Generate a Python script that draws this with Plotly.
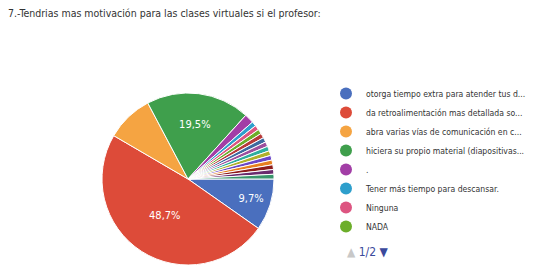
import plotly.graph_objects as go

title = "7.-Tendrias mas motivación para las clases virtuales si el profesor:"
labels = [
    "otorga tiempo extra para atender tus d...",
    "da retroalimentación mas detallada so...",
    "abra varias vías de comunicación en c...",
    "hiciera su propio material (diapositivas...",
    ".",
    "Tener más tiempo para descansar.",
    "Ninguna",
    "NADA",
    "r9", "r10", "r11", "r12", "r13", "r14", "r15", "r16", "r17", "r18",
]
values = [11, 55, 10, 22, 2, 1, 1, 1, 1, 1, 1, 1, 1, 1, 1, 1, 1, 1]
colors = ["#4a6fbe", "#dd4b39", "#f5a442", "#3f9f4c", "#a23ea6", "#2e9fcc",
          "#dd5581", "#6cae2a", "#b73a3a", "#3d6aa0", "#9c4f9e", "#2fae9f",
          "#b0b02a", "#6a46c8", "#e77f1f", "#8e1c1c", "#6a2a6e", "#3a956c"]
shown_labels = {0, 1, 3}
legend_count = 8

texts = ["%{percent:.1%}" if i in shown_labels else "" for i in range(len(values))]

FONT = "DejaVu Sans Condensed, Roboto"
# page body has an 8px margin, so the figure is sized to fit the window
W, H = 526, 266
OX, OY = 8, 8


def px(x):
    return (x - OX) / W


def py(y):
    return 1 - (y - OY) / H


fig = go.Figure()
cx, cy, r = 188, 179, 86
fig.add_trace(go.Pie(
    labels=labels, values=values, sort=False, direction="clockwise", rotation=90,
    marker=dict(colors=colors, line=dict(color="white", width=1)),
    texttemplate=texts, textposition="inside", insidetextorientation="horizontal",
    textfont=dict(color="white", size=11, family=FONT),
    showlegend=False, hoverinfo="label+percent",
    domain=dict(x=[px(cx - r), px(cx + r)], y=[py(cy + r), py(cy - r)]),
))

for i in range(legend_count):
    fig.add_trace(go.Scatter(
        x=[None], y=[None], mode="markers", name=labels[i],
        marker=dict(color=colors[i], size=10, symbol="circle"),
        showlegend=True,
    ))

fig.update_layout(
    width=W, height=H, margin=dict(l=0, r=0, t=0, b=0, autoexpand=False),
    paper_bgcolor="white", plot_bgcolor="white",
    separators=",.",
    xaxis=dict(visible=False), yaxis=dict(visible=False),
    title=dict(text=title, x=px(8), xanchor="left", y=py(13), yanchor="middle",
               font=dict(size=10.5, color="#333333", family=FONT)),
    legend=dict(x=px(326), xanchor="left", y=py(79), yanchor="top",
                font=dict(size=8.6, color="#333333", family=FONT),
                itemsizing="constant", bgcolor="rgba(0,0,0,0)"),
    annotations=[dict(
        x=px(345), y=py(252), xref="paper", yref="paper", xanchor="left", yanchor="middle",
        showarrow=False,
        text='<span style="color:#c8c8c8">▲</span> <span style="color:#3b4a9c">1/2</span> <span style="color:#3b4a9c">▼</span>',
        font=dict(size=12, family=FONT),
    )],
)

fig.write_html("out.html")
